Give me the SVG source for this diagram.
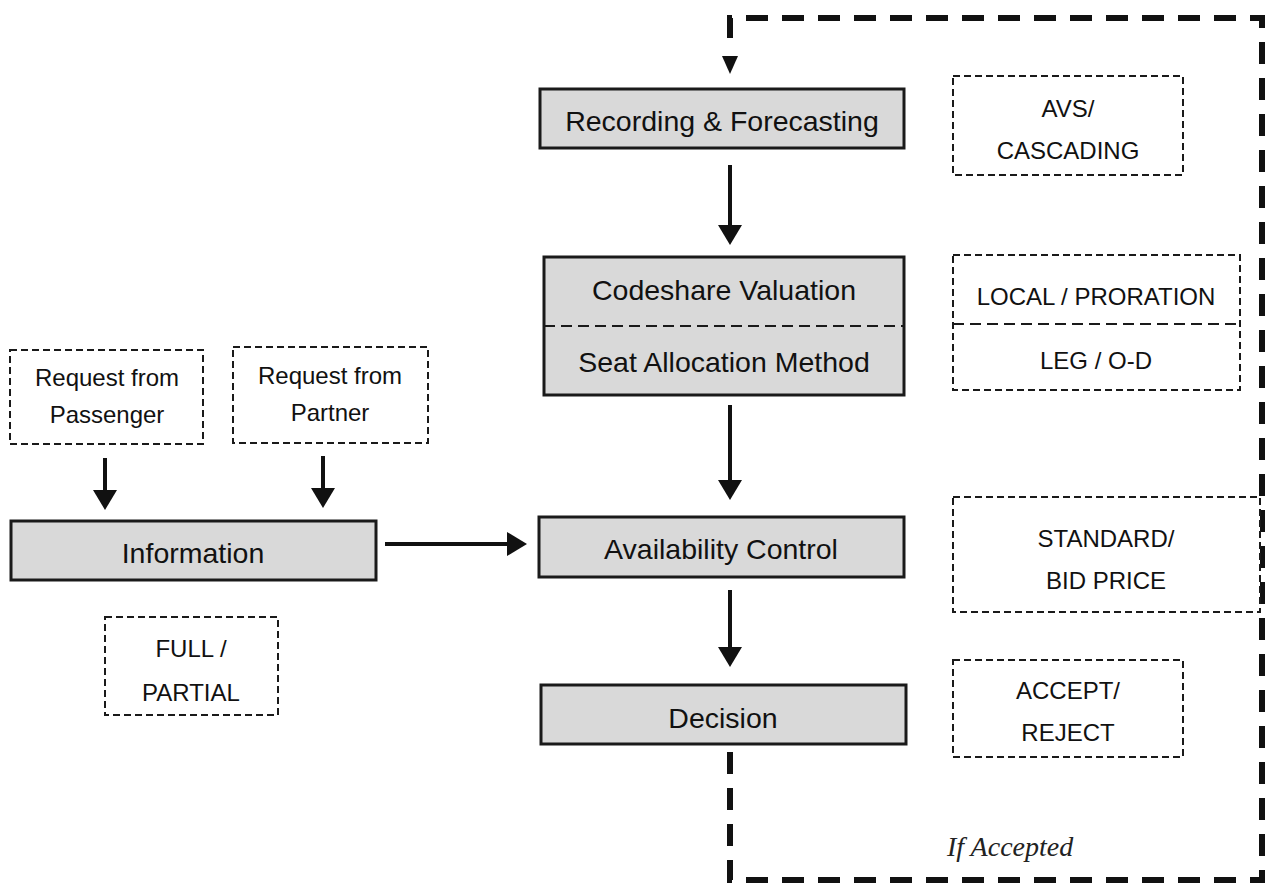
<svg xmlns="http://www.w3.org/2000/svg" width="1280" height="886" viewBox="0 0 1280 886">
<style>
.node{fill:#d9d9d9;stroke:#1a1a1a;stroke-width:3}
.opt{fill:#fff;stroke:#1a1a1a;stroke-width:2;stroke-dasharray:7 4}
.div{stroke:#1a1a1a;stroke-width:2;stroke-dasharray:11 6;fill:none}
.t{font-family:"Liberation Sans",Arial,sans-serif;font-size:28.5px;fill:#111;text-anchor:middle}
.s{font-family:"Liberation Sans",Arial,sans-serif;font-size:24px;fill:#111;text-anchor:middle}
.arr{stroke:#111;stroke-width:4;fill:none}
.loop{stroke:#111;stroke-width:6;fill:none;stroke-dasharray:22 14}
.it{font-family:"Liberation Serif","Times New Roman",serif;font-style:italic;font-size:28px;fill:#222}
</style>
<defs>
<marker id="ah" markerWidth="6" markerHeight="6" refX="4" refY="3" orient="auto" markerUnits="strokeWidth">
<path d="M0,0 L5,3 L0,6 z" fill="#111"/>
</marker>
</defs>
<rect width="1280" height="886" fill="#fff"/>

<g id="connectors">
<line class="arr" x1="730" y1="165" x2="730" y2="241" marker-end="url(#ah)"/>
<line class="arr" x1="730" y1="405" x2="730" y2="496" marker-end="url(#ah)"/>
<line class="arr" x1="730" y1="590" x2="730" y2="663" marker-end="url(#ah)"/>
<line class="arr" x1="105" y1="458" x2="105" y2="506" marker-end="url(#ah)"/>
<line class="arr" x1="323" y1="456" x2="323" y2="504" marker-end="url(#ah)"/>
<line class="arr" x1="385" y1="544" x2="523" y2="544" marker-end="url(#ah)"/>
<path class="loop" d="M730,752 L730,880 L1262,880 L1262,18 L730,18 L730,46"/>
<polygon points="722,56 738,56 730,74" fill="#111"/>
<text class="it" x="947" y="856">If Accepted</text>
</g>

<g id="recording">
<rect class="node" x="540" y="89" width="364" height="59"/>
<text class="t" x="722" y="131">Recording &amp; Forecasting</text>
</g>
<g id="codeshare">
<rect class="node" x="544" y="257" width="360" height="138"/>
<line class="div" x1="544" y1="326" x2="904" y2="326"/>
<text class="t" x="724" y="300">Codeshare Valuation</text>
<text class="t" x="724" y="372">Seat Allocation Method</text>
</g>
<g id="availability">
<rect class="node" x="539" y="517" width="365" height="60"/>
<text class="t" x="721" y="559">Availability Control</text>
</g>
<g id="decision">
<rect class="node" x="541" y="685" width="365" height="59"/>
<text class="t" x="723" y="728">Decision</text>
</g>
<g id="information">
<rect class="node" x="11" y="521" width="365" height="59"/>
<text class="t" x="193" y="563">Information</text>
</g>

<g id="avs">
<rect class="opt" x="953" y="76" width="230" height="99"/>
<text class="s" x="1068" y="117">AVS/</text>
<text class="s" x="1068" y="159">CASCADING</text>
</g>
<g id="local">
<rect class="opt" x="953" y="255" width="287" height="135"/>
<line class="div" x1="953" y1="324" x2="1240" y2="324"/>
<text class="s" x="1096" y="305">LOCAL / PRORATION</text>
<text class="s" x="1096" y="369">LEG / O-D</text>
</g>
<g id="standard">
<rect class="opt" x="953" y="497" width="307" height="115"/>
<text class="s" x="1106" y="547">STANDARD/</text>
<text class="s" x="1106" y="589">BID PRICE</text>
</g>
<g id="accept">
<rect class="opt" x="953" y="660" width="230" height="97"/>
<text class="s" x="1068" y="699">ACCEPT/</text>
<text class="s" x="1068" y="741">REJECT</text>
</g>
<g id="passenger">
<rect class="opt" x="10" y="350" width="193" height="94"/>
<text class="s" x="107" y="386">Request from</text>
<text class="s" x="107" y="423">Passenger</text>
</g>
<g id="partner">
<rect class="opt" x="233" y="347" width="195" height="96"/>
<text class="s" x="330" y="384">Request from</text>
<text class="s" x="330" y="421">Partner</text>
</g>
<g id="fullpartial">
<rect class="opt" x="105" y="617" width="173" height="98"/>
<text class="s" x="191" y="657">FULL /</text>
<text class="s" x="191" y="701">PARTIAL</text>
</g>
</svg>
